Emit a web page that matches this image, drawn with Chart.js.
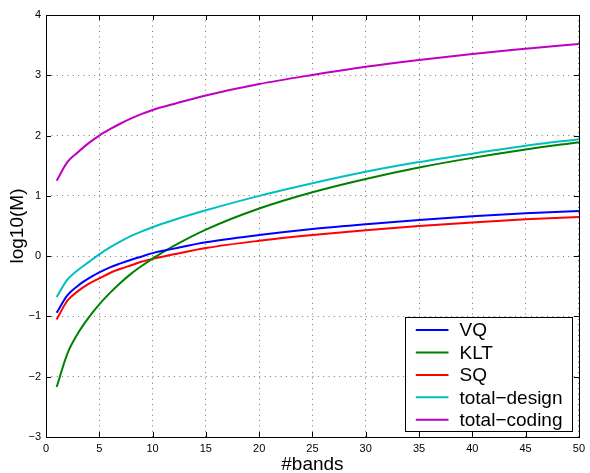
<!DOCTYPE html>
<html>
<head>
<meta charset="utf-8">
<title>log10(M) vs #bands</title>
<script src="https://cdn.jsdelivr.net/npm/chart.js@4/dist/chart.umd.min.js"></script>
<style>
  html, body { margin: 0; padding: 0; background: #fff; }
  #wrap { width: 590px; height: 473px; position: relative; }
</style>
</head>
<body>
<div id="wrap"><canvas id="c"></canvas></div>
<script>
// Number of bands (x values of the sampled points)
const bands = [1, 2, 3, 4, 5, 6, 7, 8, 9, 10, 12, 15, 20, 25, 30, 35, 40, 45, 50];

// log10 of the complexity M for each component
const vq = [-0.94, -0.65, -0.49, -0.37, -0.27, -0.185, -0.12, -0.06, -0.005, 0.05, 0.125, 0.23, 0.35, 0.45, 0.53, 0.60, 0.66, 0.71, 0.75];
const klt = [-2.17, -1.62, -1.28, -1.02, -0.80, -0.61, -0.44, -0.29, -0.16, -0.04, 0.17, 0.44, 0.79, 1.06, 1.28, 1.47, 1.63, 1.77, 1.89];
const sq = [-1.05, -0.74, -0.58, -0.46, -0.37, -0.28, -0.21, -0.15, -0.09, -0.045, 0.03, 0.135, 0.255, 0.35, 0.43, 0.50, 0.56, 0.61, 0.65];
const totalDesign = [-0.68, -0.39, -0.23, -0.10, 0.03, 0.145, 0.245, 0.335, 0.41, 0.48, 0.60, 0.76, 1.0, 1.21, 1.40, 1.56, 1.70, 1.83, 1.94];
const totalCoding = [1.25, 1.56, 1.725, 1.875, 2.0, 2.105, 2.20, 2.285, 2.36, 2.425, 2.525, 2.665, 2.855, 3.005, 3.14, 3.255, 3.355, 3.44, 3.52];

// Series names and colours
const seriesNames = ['VQ', 'KLT', 'SQ', 'total\u2212design', 'total\u2212coding'];
const seriesColors = ['#0000ff', '#008000', '#ff0000', '#00bfbf', '#bf00bf'];
const seriesValues = [vq, klt, sq, totalDesign, totalCoding];

// Axis ranges and tick steps
const xRange = [0, 50];
const xStep = 5;
const yRange = [-3, 4];
const yStep = 1;

const FONT = '"Liberation Sans", Arial, Helvetica, sans-serif';

const fmtTick = v => (v < 0 ? '\u2212' + Math.abs(v) : String(v));

// Black box around the plot with inward tick marks on all four sides
const framePlugin = {
  id: 'frame',
  afterDatasetsDraw(chart) {
    const { ctx, chartArea: a, scales: { x, y } } = chart;
    const L = 5;
    ctx.save();
    ctx.strokeStyle = '#000';
    ctx.lineWidth = 1;
    ctx.setLineDash([]);
    ctx.beginPath();
    x.ticks.forEach(t => {
      const px = Math.round(x.getPixelForValue(t.value)) + 0.5;
      ctx.moveTo(px, a.bottom); ctx.lineTo(px, a.bottom - L);
      ctx.moveTo(px, a.top); ctx.lineTo(px, a.top + L);
    });
    y.ticks.forEach(t => {
      const py = Math.round(y.getPixelForValue(t.value)) + 0.5;
      ctx.moveTo(a.left, py); ctx.lineTo(a.left + L, py);
      ctx.moveTo(a.right, py); ctx.lineTo(a.right - L, py);
    });
    ctx.stroke();
    ctx.strokeRect(Math.round(a.left) + 0.5, Math.round(a.top) + 0.5,
      Math.round(a.right) - Math.round(a.left), Math.round(a.bottom) - Math.round(a.top));
    ctx.restore();
  }
};

// Legend box inside the lower-right corner of the plot
const boxLegendPlugin = {
  id: 'boxLegend',
  afterDraw(chart) {
    const { ctx, chartArea: a } = chart;
    const ds = chart.data.datasets;
    ctx.save();
    ctx.font = '19px ' + FONT;
    const maxW = Math.max(...ds.map(d => ctx.measureText(d.label).width));
    const padL = 10.7, lineLen = 32.7, gap = 11, padR = 10, rowH = 22.4, padT = 12.7, padB = 11.7;
    const w = padL + lineLen + gap + maxW + padR;
    const h = padT + rowH * (ds.length - 1) + padB;
    const right = a.right - 6.4;
    const bottom = a.bottom - 5.6;
    const left = right - w;
    const top = bottom - h;
    ctx.fillStyle = '#fff';
    ctx.fillRect(left, top, w, h);
    ctx.strokeStyle = '#000';
    ctx.lineWidth = 1;
    ctx.strokeRect(Math.round(left) + 0.5, Math.round(top) + 0.5, Math.round(w), Math.round(h));
    ds.forEach((d, i) => {
      const cy = top + padT + i * rowH;
      ctx.strokeStyle = d.borderColor;
      ctx.lineWidth = 2;
      ctx.beginPath();
      ctx.moveTo(left + padL, cy);
      ctx.lineTo(left + padL + lineLen, cy);
      ctx.stroke();
      ctx.fillStyle = '#000';
      ctx.textBaseline = 'middle';
      ctx.textAlign = 'left';
      ctx.fillText(d.label, left + padL + lineLen + gap, cy + 1);
    });
    ctx.restore();
  }
};

const datasets = seriesNames.map((name, i) => ({
  label: name,
  data: bands.map((b, j) => ({ x: b, y: seriesValues[i][j] })),
  borderColor: seriesColors[i],
  backgroundColor: seriesColors[i],
  borderWidth: 2,
  pointRadius: 0,
  fill: false,
  cubicInterpolationMode: 'monotone'
}));

new Chart(document.getElementById('c'), {
  type: 'line',
  data: { datasets },
  plugins: [framePlugin, boxLegendPlugin],
  options: {
    responsive: true,
    maintainAspectRatio: false,
    animation: false,
    layout: { padding: { left: 0, right: 8, top: 15, bottom: 0 } },
    plugins: { legend: { display: false }, tooltip: { enabled: false } },
    scales: {
      x: {
        type: 'linear',
        min: xRange[0], max: xRange[1],
        afterFit(s) { s.height = 36; },
        ticks: { stepSize: xStep, padding: 5, color: '#000', font: { family: FONT, size: 11 }, maxRotation: 0, callback: fmtTick },
        grid: { color: 'rgba(0,0,0,0.55)', lineWidth: 1, drawTicks: false },
        border: { display: false, dash: [1, 4.33] },
        title: { display: true, text: '#bands', color: '#000', font: { family: FONT, size: 19, lineHeight: 1 }, padding: { top: 0, bottom: -1.5 } }
      },
      y: {
        type: 'linear',
        min: yRange[0], max: yRange[1],
        afterFit(s) { s.width = 46; },
        ticks: { stepSize: yStep, padding: 5, color: '#000', font: { family: FONT, size: 11 }, callback: fmtTick },
        grid: { color: 'rgba(0,0,0,0.55)', lineWidth: 1, drawTicks: false },
        border: { display: false, dash: [1, 4.33] },
        title: { display: true, text: 'log10(M)', color: '#000', font: { family: FONT, size: 19, lineHeight: 1 }, padding: { top: 8, bottom: 0 } }
      }
    }
  }
});
</script>
</body>
</html>
